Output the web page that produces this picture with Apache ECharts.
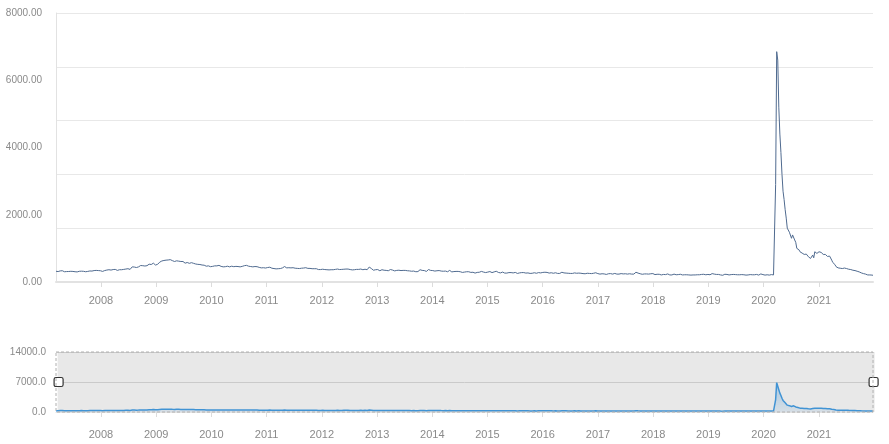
<!DOCTYPE html>
<html>
<head>
<meta charset="utf-8">
<script src="https://cdn.jsdelivr.net/npm/echarts@6/dist/echarts.min.js"></script>
<style>
html, body { margin: 0; padding: 0; background: #fff; }
#chart { width: 889px; height: 444px; }
</style>
</head>
<body>
<div id="chart"></div>
<script>
// initial jobless claims, thousands
// two-week samples from 2007-03-10 up to 2020-03-07
const biweeklyStart = '2007-03-10'
const claims2007 = [320, 310, 330, 335, 305, 310, 312, 318, 315, 305, 300, 318, 322, 318, 305, 315, 328, 325, 340, 345, 340, 335]
const claims2008 = [315, 340, 355, 365, 355, 370, 375, 345, 365, 365, 375, 385, 395, 375, 450, 445, 430, 450, 490, 485, 475, 485, 530, 520, 560, 505]
const claims2009 = [525, 590, 625, 640, 650, 655, 665, 635, 610, 630, 620, 610, 610, 560, 580, 555, 575, 555, 535, 525, 520, 505, 500, 470, 480, 455]
const claims2010 = [465, 480, 480, 495, 465, 450, 455, 470, 450, 470, 455, 465, 460, 450, 465, 485, 495, 470, 460, 450, 460, 455, 435, 420, 425, 415]
const claims2011 = [430, 440, 410, 400, 390, 395, 400, 420, 460, 420, 425, 420, 425, 410, 405, 400, 410, 415, 425, 405, 405, 395, 395, 395, 370, 370]
const claims2012 = [380, 370, 365, 360, 365, 365, 375, 385, 370, 375, 380, 385, 385, 370, 360, 365, 375, 375, 385, 365, 380, 365, 445, 400, 350, 365]
const claims2013 = [370, 335, 365, 350, 345, 335, 370, 355, 330, 345, 350, 340, 345, 345, 335, 330, 320, 325, 305, 310, 365, 345, 340, 315, 370, 345]
const claims2014 = [340, 325, 335, 340, 325, 320, 325, 305, 345, 300, 310, 315, 315, 305, 285, 295, 305, 305, 285, 290, 265, 285, 290, 315, 295, 280]
const claims2015 = [295, 310, 280, 300, 320, 285, 270, 295, 265, 265, 280, 280, 270, 285, 255, 270, 280, 280, 265, 270, 255, 260, 275, 260, 280, 270]
const claims2016 = [285, 290, 285, 265, 275, 260, 275, 255, 255, 290, 270, 265, 260, 255, 255, 270, 260, 265, 260, 250, 245, 260, 255, 250, 260, 275, 250]
const claims2017 = [235, 245, 240, 225, 245, 250, 235, 255, 235, 235, 250, 240, 245, 235, 245, 235, 235, 290, 265, 245, 230, 240, 240, 235, 245, 250]
const claims2018 = [220, 230, 230, 210, 225, 220, 240, 210, 210, 235, 215, 220, 230, 210, 215, 215, 210, 205, 210, 210, 215, 215, 225, 230, 215, 225]
const claims2019 = [215, 250, 235, 225, 225, 210, 200, 230, 225, 210, 220, 225, 220, 215, 215, 220, 215, 205, 210, 220, 215, 215, 225, 205, 240, 220]
const claimsEarly2020 = [205, 215, 205, 220, 210]

// weekly from 2020-03-14
const weeklyStart = '2020-03-14'
const claims2020 = [250, 2900, 6850, 6600, 5200, 4400, 3850, 3200, 2700, 2450, 2150, 1900, 1600, 1550, 1480, 1430, 1300, 1400, 1450, 1250,
  1180, 1000, 1050, 960, 900, 880, 860, 850, 820, 800, 830, 780, 750, 730, 700, 740, 800, 720, 900, 880, 850, 800]
const claims2021 = [900, 930, 880, 850, 820, 850, 820, 780, 760, 750, 770, 720, 650, 580, 560, 520, 460, 430, 420, 430, 410, 400, 400, 410, 415, 390,
  400, 410, 380, 390, 370, 360, 350, 360, 340, 330, 320, 310, 300, 290, 270, 260, 250, 240, 235, 225, 210, 220, 210, 215, 205, 200]

const mainMax = 8000
const mainLabelStep = 2000
const mainGridStep = 1600
const overviewMax = 14000
const overviewStep = 7000

const DAY = 24 * 3600 * 1000
const toPoints = (start, stepDays, values) => {
  const t0 = Date.parse(start + 'T00:00:00Z')
  return values.map((v, i) => [t0 + i * stepDays * DAY, v])
}

const seriesData = toPoints(biweeklyStart, 14, [].concat(
  claims2007, claims2008, claims2009, claims2010, claims2011, claims2012, claims2013,
  claims2014, claims2015, claims2016, claims2017, claims2018, claims2019, claimsEarly2020
)).concat(toPoints(weeklyStart, 7, claims2020.concat(claims2021)))

const chart = echarts.init(document.getElementById('chart'))

const LEFT = 56
const RIGHT = 16
const OV_TOP = 352
const OV_HEIGHT = 60
const YEAR = 365 * DAY

const labelFont = { color: '#8a8a8a', fontFamily: 'Liberation Sans, Arial, sans-serif' }

const timeAxis = (gridIndex) => ({
  type: 'time',
  gridIndex,
  min: 'dataMin',
  max: 'dataMax',
  minInterval: YEAR,
  maxInterval: YEAR,
  axisLine: { lineStyle: { color: '#e2e2e2', width: gridIndex === 0 ? 2 : 1 } },
  axisTick: { show: true, length: 5, lineStyle: { color: '#dcdcdc' } },
  axisLabel: { ...labelFont, fontSize: 11, margin: gridIndex === 0 ? 13 : 17, formatter: '{yyyy}' },
  splitLine: { show: false }
})

chart.setOption({
  animation: false,
  grid: [
    { left: LEFT, right: RIGHT, top: 13, bottom: 162 },
    { left: LEFT, right: RIGHT, top: OV_TOP, height: OV_HEIGHT }
  ],
  xAxis: [timeAxis(0), timeAxis(1)],
  yAxis: [
    {
      type: 'value', gridIndex: 0, min: 0, max: mainMax, interval: mainLabelStep,
      axisLine: { show: true, lineStyle: { color: '#e2e2e2' } },
      axisTick: { show: false },
      axisLabel: { ...labelFont, fontSize: 10, margin: 14, formatter: v => v.toFixed(2) },
      splitLine: { show: false }
    },
    {
      type: 'value', gridIndex: 0, min: 0, max: mainMax, interval: mainGridStep,
      axisLine: { show: false }, axisTick: { show: false }, axisLabel: { show: false },
      splitLine: { lineStyle: { color: '#e8e8e8' } }
    },
    {
      type: 'value', gridIndex: 1, min: 0, max: overviewMax, interval: overviewStep,
      axisLine: { show: false }, axisTick: { show: false },
      axisLabel: { ...labelFont, fontSize: 10, margin: 10, formatter: v => v.toFixed(1) },
      splitLine: { lineStyle: { color: '#dadada' } }
    }
  ],
  dataZoom: [{
    type: 'slider',
    xAxisIndex: 0,
    start: 0,
    end: 100,
    left: LEFT,
    right: RIGHT,
    top: OV_TOP,
    height: OV_HEIGHT,
    showDataShadow: false,
    showDetail: false,
    brushSelect: false,
    moveHandleSize: 0,
    backgroundColor: 'transparent',
    borderColor: 'transparent',
    fillerColor: 'rgba(140,140,140,0.2)',
    handleIcon: 'path://M2,0 L8,0 Q10,0 10,2 L10,8 Q10,10 8,10 L2,10 Q0,10 0,8 L0,2 Q0,0 2,0 Z',
    handleSize: 9,
    handleStyle: { color: '#fff', borderColor: '#333', borderWidth: 1.2 }
  }],
  graphic: [{
    type: 'rect',
    z: 100,
    silent: true,
    shape: { x: LEFT, y: OV_TOP, width: 889 - LEFT - RIGHT, height: OV_HEIGHT },
    style: { fill: 'none', stroke: '#b0b0b0', lineWidth: 1, lineDash: [3, 2] }
  }],
  series: [
    {
      type: 'line',
      xAxisIndex: 0,
      yAxisIndex: 0,
      data: seriesData,
      showSymbol: false,
      lineStyle: { color: '#4f6a8f', width: 1 },
      itemStyle: { color: '#4f6a8f' }
    },
    {
      type: 'line',
      xAxisIndex: 1,
      yAxisIndex: 2,
      data: seriesData,
      showSymbol: false,
      lineStyle: { color: '#2e95e6', width: 1.5 },
      itemStyle: { color: '#2e95e6' },
      areaStyle: {
        color: new echarts.graphic.LinearGradient(0, 0, 0, 1, [
          { offset: 0, color: 'rgba(46,149,230,0.55)' },
          { offset: 1, color: 'rgba(46,149,230,0.15)' }
        ])
      }
    }
  ]
})

window.addEventListener('resize', () => chart.resize())
</script>
</body>
</html>
